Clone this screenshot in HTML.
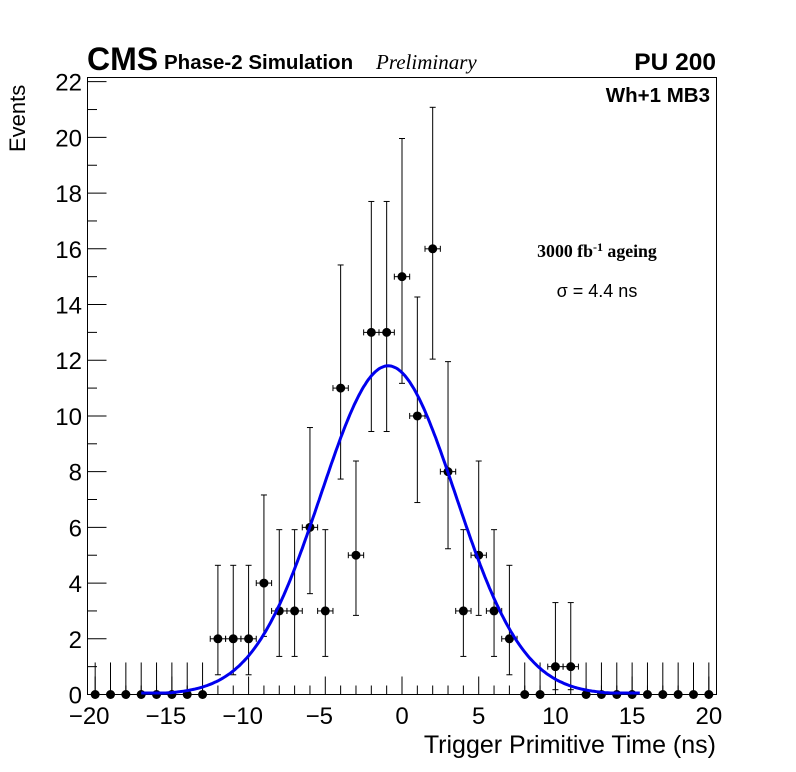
<!DOCTYPE html>
<html><head><meta charset="utf-8"><style>
body{margin:0;background:#fff}
svg{display:block;font-family:"Liberation Sans",sans-serif}
</style></head><body>
<svg id="c" width="796" height="772" xmlns="http://www.w3.org/2000/svg">
<rect x="0" y="0" width="796" height="772" fill="#fff"/>
<g id="plot"></g>
<text x="87" y="70" font-size="32" font-weight="bold">CMS</text>
<text x="164" y="69" font-size="20.5" font-weight="bold">Phase-2 Simulation</text>
<text x="376" y="69" font-size="21" font-style="italic" font-family="Liberation Serif,serif">Preliminary</text>
<text x="716" y="70" font-size="24.5" font-weight="bold" text-anchor="end">PU 200</text>
<text x="710" y="102" font-size="20.5" font-weight="bold" text-anchor="end">Wh+1 MB3</text>
<text x="597" y="257" font-size="17.8" font-weight="bold" text-anchor="middle" font-family="Liberation Serif,serif">3000 fb<tspan dy="-6" font-size="12">-1</tspan><tspan dy="6"> ageing</tspan></text>
<text x="597" y="297" font-size="18" text-anchor="middle">σ = 4.4 ns</text>
<text transform="translate(25,152) rotate(-90)" font-size="22">Events</text>
<text x="716" y="753" font-size="25" text-anchor="end">Trigger Primitive Time (ns)</text>
</svg>
<script>
const xCenters=[-20,-19,-18,-17,-16,-15,-14,-13,-12,-11,-10,-9,-8,-7,-6,-5,-4,-3,-2,-1,0,1,2,3,4,5,6,7,8,9,10,11,12,13,14,15,16,17,18,19,20];
const counts=[0,0,0,0,0,0,0,0,2,2,2,4,3,3,6,3,11,5,13,13,15,10,16,8,3,5,3,2,0,0,1,1,0,0,0,0,0,0,0,0,0];
const xTicks=[-20,-15,-10,-5,0,5,10,15,20];
const yTicks=[0,2,4,6,8,10,12,14,16,18,20,22];
const fitAmp=11.8, fitMean=-0.9, fitSigma=4.4;
const NS='http://www.w3.org/2000/svg';
const L=87.5,R=716.5,T=77.5,B=694.5;
const xMin=-20.5,xMax=20.5,yMax=22.15;
const sx=v=>L+(v-xMin)/(xMax-xMin)*(R-L);
const sy=v=>B-v/yMax*(B-T);
const lowTab={0:0,1:0.173,2:0.708,3:1.367,4:2.086,5:2.840,6:3.620,7:4.419,8:5.232,9:6.057,10:6.891,11:7.734,12:8.585,13:9.441,14:10.30,15:11.17,16:12.04};
const upTab={0:1.841,1:3.300,2:4.638,3:5.918,4:7.163,5:8.382,6:9.584,7:10.77,8:11.95,9:13.11,10:14.27,11:15.42,12:16.56,13:17.70,14:18.83,15:19.96,16:21.08};
const g=document.getElementById('plot');
function mk(t,a,p){const e=document.createElementNS(NS,t);for(const k in a)e.setAttribute(k,a[k]);(p||g).appendChild(e);return e;}
const frame=mk('rect',{x:L,y:T,width:R-L,height:B-T,fill:'none',stroke:'#000','stroke-width':1});


for(let v=-20;v<=20;v++){const maj=v%5===0;const t=mk('line',{x1:sx(v),x2:sx(v),y1:B,y2:B-(maj?18:9),stroke:'#000'});

}
for(let v=0;v<=22;v++){const maj=v%2===0;const t=mk('line',{x1:L,x2:L+(maj?19:9.5),y1:sy(v),y2:sy(v),stroke:'#000'});

}
xTicks.forEach(v=>{const t=mk('text',{x:sx(v)-(v<0?6:0),y:724,'font-size':24,'text-anchor':'middle'});t.textContent=(v<0?'\u2212'+(-v):v);

});
yTicks.forEach(v=>{const t=mk('text',{x:82,y:sy(v)+9,'font-size':24,'text-anchor':'end'});t.textContent=v;

});
xCenters.forEach((x,i)=>{const n=counts[i];const grp=mk('g',{});


const cx=sx(x),cy=sy(n);
mk('line',{x1:cx,x2:cx,y1:sy(lowTab[n]),y2:sy(n===0?1.15:upTab[n]),stroke:'#000'},grp);
if(n>0){mk('line',{x1:sx(x-0.5),x2:sx(x+0.5),y1:cy,y2:cy,stroke:'#000'},grp);
mk('line',{x1:sx(x-0.5),x2:sx(x-0.5),y1:cy-3,y2:cy+3,stroke:'#000'},grp);
mk('line',{x1:sx(x+0.5),x2:sx(x+0.5),y1:cy-3,y2:cy+3,stroke:'#000'},grp);
mk('line',{x1:cx-3,x2:cx+3,y1:sy(lowTab[n]),y2:sy(lowTab[n]),stroke:'#000'},grp);
mk('line',{x1:cx-3,x2:cx+3,y1:sy(upTab[n]),y2:sy(upTab[n]),stroke:'#000'},grp);}
mk('circle',{cx:cx,cy:cy,r:4.5,fill:'#000'},grp);});
let d='';for(let x=-17;x<=15.5;x+=0.1){const y=fitAmp*Math.exp(-0.5*((x-fitMean)/fitSigma)**2);d+=(d?'L':'M')+sx(x).toFixed(1)+','+Math.min(sy(y),B-1.5).toFixed(1);}
const fit=mk('path',{d:d,fill:'none',stroke:'#0000ee','stroke-width':3});


</script>
</body></html>
